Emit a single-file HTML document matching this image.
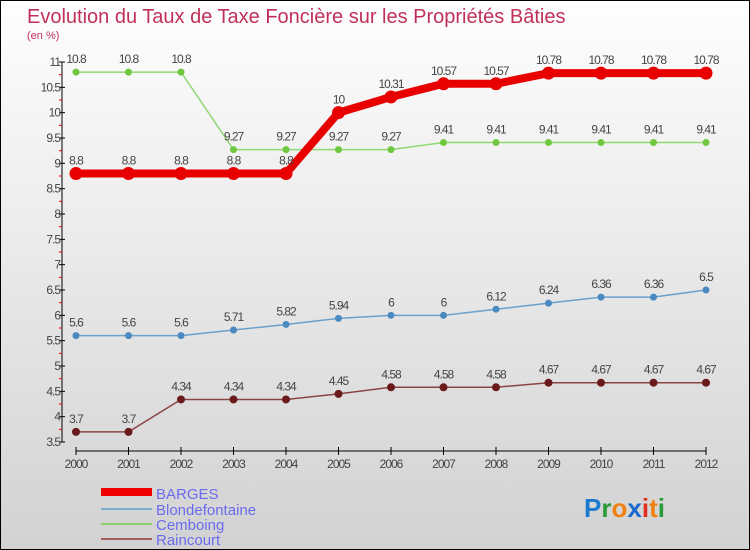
<!DOCTYPE html>
<html><head><meta charset="utf-8"><style>
body{margin:0}
#c{width:750px;height:550px;position:relative;overflow:hidden;box-sizing:border-box;border:1px solid #000;background:linear-gradient(#fefefe,#d2d2d2);font-family:"Liberation Sans",sans-serif}
</style></head><body>
<div id="c">
<svg id="s" width="750" height="550" style="position:absolute;left:0;top:0">
<text x="26" y="22" font-size="20" fill="#c0305a">Evolution du Taux de Taxe Foncière sur les Propriétés Bâties</text>
<text x="26" y="38" font-size="11" fill="#c0305a">(en %)</text>
<g id="axes"></g><g id="series"></g>
<g>
<rect x="100" y="487" width="51" height="8" fill="#e00"/>
<text x="155" y="498" font-size="15" fill="#6b6bf0">BARGES</text>
<line x1="100" y1="508" x2="151" y2="508" stroke="#7aaed0" stroke-width="2"/>
<text x="155" y="514" font-size="15" fill="#6b6bf0">Blondefontaine</text>
<line x1="100" y1="523" x2="151" y2="523" stroke="#90d070" stroke-width="2"/>
<text x="155" y="529" font-size="15" fill="#6b6bf0">Cemboing</text>
<line x1="100" y1="538" x2="151" y2="538" stroke="#a06060" stroke-width="2"/>
<text x="155" y="544" font-size="15" fill="#6b6bf0">Raincourt</text>
</g>
<g font-size="26" font-weight="bold">
<text x="583" y="516"><tspan fill="#1a7ad0">P</tspan><tspan fill="#2a9a3a">r</tspan><tspan fill="#f08010">o</tspan><tspan fill="#1a6ad0">x</tspan><tspan fill="#e03020">i</tspan><tspan fill="#f08010">t</tspan><tspan fill="#2a9a3a">i</tspan></text>
</g>
</svg>
</div>
<script>
const years=[2000,2001,2002,2003,2004,2005,2006,2007,2008,2009,2010,2011,2012];
const barges=[8.8,8.8,8.8,8.8,8.8,10,10.31,10.57,10.57,10.78,10.78,10.78,10.78];
const blondefontaine=[5.6,5.6,5.6,5.71,5.82,5.94,6,6,6.12,6.24,6.36,6.36,6.5];
const cemboing=[10.8,10.8,10.8,9.27,9.27,9.27,9.27,9.41,9.41,9.41,9.41,9.41,9.41];
const raincourt=[3.7,3.7,4.34,4.34,4.34,4.45,4.58,4.58,4.58,4.67,4.67,4.67,4.67];
const yTicks=[3.5,4,4.5,5,5.5,6,6.5,7,7.5,8,8.5,9,9.5,10,10.5,11];
const NS="http://www.w3.org/2000/svg";
const xs=i=>75+i*52.5;
const ys=v=>441-(v-3.5)*(380/7.5);
function mk(t,a,p){const e=document.createElementNS(NS,t);for(const k in a)e.setAttribute(k,a[k]);p.appendChild(e);return e;}
const ax=document.getElementById('axes');
let e=mk('line',{x1:61,y1:ys(11),x2:61,y2:441,stroke:'#000'},ax);


e=mk('line',{x1:75,y1:450,x2:705,y2:450,stroke:'#000'},ax);


yTicks.forEach(v=>{
 mk('line',{x1:58,y1:ys(v),x2:64,y2:ys(v),stroke:'#000'},ax);
 if(v<11)mk('line',{x1:58,y1:ys(v+0.25),x2:61,y2:ys(v+0.25),stroke:'#e00'},ax);
 const t=mk('text',{x:59,y:ys(v)+4,'text-anchor':'end','font-size':12,fill:'#444','letter-spacing':'-1'},ax);
 t.textContent=String(v);
 
 
});
years.forEach((y,i)=>{
 mk('line',{x1:xs(i),y1:446,x2:xs(i),y2:454,stroke:'#000'},ax);
 const t=mk('text',{x:xs(i),y:467,'text-anchor':'middle','font-size':12,fill:'#444','letter-spacing':'-1'},ax);
 t.textContent=String(y);
 
 
});
const sg=document.getElementById('series');
function series(name,vals,col,dot,w,r){
 const g=mk('g',{},sg);
 
 
 mk('polyline',{points:vals.map((v,i)=>xs(i)+','+ys(v)).join(' '),fill:'none',stroke:col,'stroke-width':w},g);
 vals.forEach((v,i)=>{
  const c=mk('circle',{cx:xs(i),cy:ys(v),r:r,fill:dot},g);
  
  
  const t=mk('text',{x:xs(i),y:ys(v)-9,'text-anchor':'middle','font-size':12,fill:'#444','letter-spacing':'-1'},g);
  t.textContent=String(v);
  
  
 });
}
series('raincourt',raincourt,'#8a4444','#6a1a1a',1.5,4);
series('blondefontaine',blondefontaine,'#6aa0cc','#4a8ac0',1.5,3.5);
series('cemboing',cemboing,'#90d870','#70c840',1.5,3.5);
series('barges',barges,'#e80000','#e80000',8,6.5);
</script>
</body></html>
